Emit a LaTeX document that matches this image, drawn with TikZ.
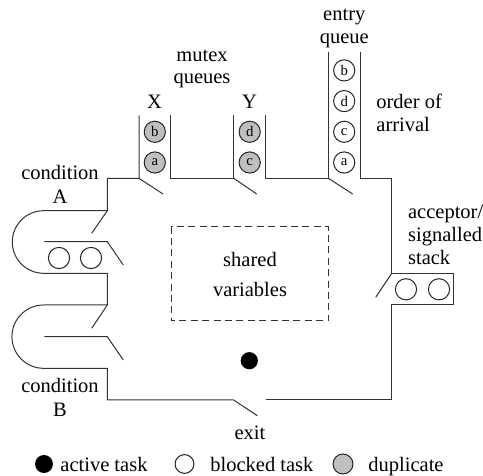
\documentclass[tikz,border=0pt]{standalone}
\usepackage{fontspec}
\setmainfont{Liberation Serif}
\begin{document}
\begin{tikzpicture}[x=0.5pt,y=-0.5pt,
  wall/.style={draw=black!80,line width=0.5pt},
  door/.style={draw=black!80,line width=0.5pt},
  lbl/.style={inner sep=0pt,font=\fontsize{10.25}{11.5}\selectfont},
  task/.style={circle,draw=black!85,line width=0.5pt,minimum size=10.6pt,inner sep=0pt,font=\fontsize{7.4}{8}\selectfont},
  dup/.style={task,fill=black!25},
  active/.style={circle,fill=black,minimum size=8.6pt,inner sep=0pt},
  legcirc/.style={circle,draw=black!85,line width=0.5pt,minimum size=9.4pt,inner sep=0pt}]
\useasboundingbox (0,0) rectangle (483,476);

% outer walls of the monitor
\draw[wall] (265.7,400) -- (391.7,400) -- (391.7,305) -- (453.3,305) -- (453.3,273.3)
  -- (391.7,273.3) -- (391.7,178.3) -- (360,178.3) -- (360,51.7);
\draw[wall] (328.3,51.7) -- (328.3,178.3) -- (265.7,178.3) -- (265.7,115.5);
\draw[wall] (233.7,115.5) -- (233.7,178.3) -- (170.7,178.3) -- (170.7,115.5);
\draw[wall] (139,115.5) -- (139,178.3) -- (107.3,178.3) -- (107.3,210.7) -- (43.6,210.7)
  arc[start angle=90,end angle=270,radius=15.65pt] -- (107.3,273.3) -- (107.3,305) -- (43.6,305)
  arc[start angle=90,end angle=270,radius=15.83pt] -- (107.3,368.3) -- (107.3,400) -- (233.7,400);

% doors
\draw[door] (139,178.3) -- (163,194);
\draw[door] (233.7,178.3) -- (256.7,194);
\draw[door] (328.3,178.3) -- (352.7,194);
\draw[door] (107.3,210.7) -- (91.7,233.3);
\draw[door] (44.3,241.7) -- (107.3,241.7) -- (123.3,265);
\draw[door] (107.3,305) -- (91.7,328.3);
\draw[door] (44.3,336.7) -- (107.3,336.7) -- (123.3,360);
\draw[door] (391.7,273.3) -- (375.7,297.3);
\draw[door] (233.7,400) -- (257.3,415.7);

% shared variables
\draw[door,dash pattern=on 3.5pt off 2.2pt] (171,226.7) rectangle (328.3,321);
\node[lbl,anchor=base] (sh) at (250,266.7) {shared};
\node[lbl,anchor=base] (va) at (250,296.7) {variables};

% active task
\node[active] (act) at (249.3,360.7) {};

% mutex queues
\node[dup] (xb) at (154.8,131.8) {b};
\node[dup] (xa) at (154.8,162.5) {a};
\node[dup] (yd) at (249.7,131.8) {d};
\node[dup] (yc) at (249.7,162.5) {c};

% entry queue
\node[task] (eb) at (344.2,70.4) {b};
\node[task] (ed) at (344.2,101.1) {d};
\node[task] (ec) at (344.2,131.8) {c};
\node[task] (ea) at (344.2,162.5) {a};

% condition A and acceptor stack
\node[task] (ca1) at (59,258) {};
\node[task] (ca2) at (91,258) {};
\node[task] (ac1) at (406,289.3) {};
\node[task] (ac2) at (439,289.3) {};

% labels
\node[lbl,anchor=base] (en) at (344.3,20.7) {entry};
\node[lbl,anchor=base] (eq) at (344.3,43.3) {queue};
\node[lbl,anchor=base] (mu) at (202,61.7) {mutex};
\node[lbl,anchor=base] (mq) at (202,83.7) {queues};
\node[lbl,anchor=base] (lx) at (154.5,108.3) {X};
\node[lbl,anchor=base] (ly) at (249.5,108.3) {Y};
\node[lbl,anchor=base west] (or) at (376,108.3) {order of};
\node[lbl,anchor=base west] (ar) at (376,131.7) {arrival};
\node[lbl,anchor=base] (cA) at (60,180) {condition};
\node[lbl,anchor=base] (lA) at (60,203.3) {A};
\node[lbl,anchor=base west] (acc) at (407.7,218.3) {acceptor/};
\node[lbl,anchor=base west] (sig) at (407.7,241.7) {signalled};
\node[lbl,anchor=base west] (stk) at (407.7,265) {stack};
\node[lbl,anchor=base] (cB) at (60,392.7) {condition};
\node[lbl,anchor=base] (lB) at (60,416) {B};
\node[lbl,anchor=base] (ex) at (250,440) {exit};

% legend
\node[active,minimum size=9pt] (l1) at (44,464) {};
\node[lbl,anchor=base west] (t1) at (60,471.7) {active task};
\node[legcirc] (l2) at (184.5,464) {};
\node[lbl,anchor=base west] (t2) at (210,471.7) {blocked task};
\node[legcirc,fill=black!25,minimum size=10pt] (l3) at (343,464) {};
\node[lbl,anchor=base west] (t3) at (368,471.7) {duplicate};
\end{tikzpicture}
\end{document}
